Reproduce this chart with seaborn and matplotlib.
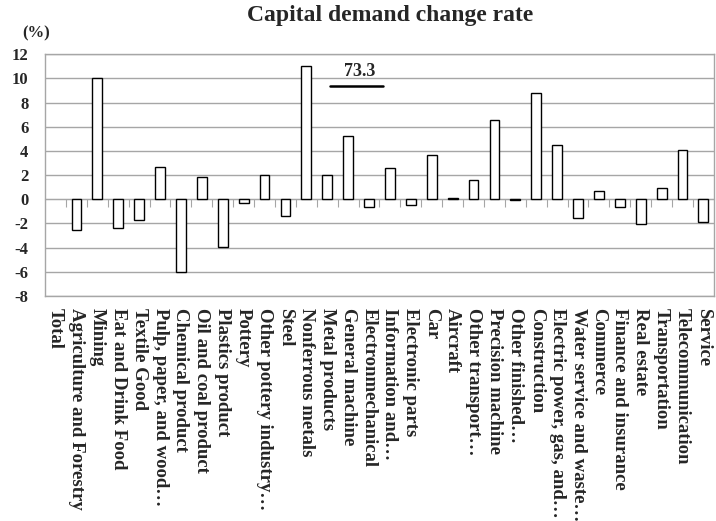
import numpy as np
import pandas as pd
import matplotlib
matplotlib.use('Agg')
import matplotlib.pyplot as plt
import seaborn as sns

# Categories and change rates (%)
categories = [
    'Total', 'Agriculture and Forestry', 'Mining', 'Eat and Drink Food',
    'Textile Good', 'Pulp, paper, and wood…', 'Chemical product',
    'Oil and coal product', 'Plastics product', 'Pottery',
    'Other pottery industry…', 'Steel', 'Nonferrous metals', 'Metal products',
    'General machine', 'Electronmechanical', 'Information and…',
    'Electronic parts', 'Car', 'Aircraft', 'Other transport…',
    'Precision machine', 'Other finished…', 'Construction',
    'Electric power, gas, and…', 'Water service and waste…', 'Commerce',
    'Finance and insurance', 'Real estate', 'Transportation',
    'Telecommunication', 'Service',
]
values = [
    np.nan, -2.55, 10.0, -2.4, -1.7, 2.7, -6.05, 1.85, -3.95, -0.33,
    2.0, -1.35, 11.0, 2.0, 5.2, -0.67, 2.55, -0.5, 3.65, 0.1,
    1.6, 6.55, -0.08, 8.8, 4.5, -1.55, 0.72, -0.67, -2.03, 0.9,
    4.08, -1.88,
]
y_ticks = [-8, -6, -4, -2, 0, 2, 4, 6, 8, 10, 12]
note_text = '73.3'

df = pd.DataFrame({'sector': categories, 'rate': values})

sns.set_style('white')
plt.rcParams['font.family'] = ['Liberation Serif', 'DejaVu Serif']
plt.rcParams['font.weight'] = 'bold'

fig = plt.figure(figsize=(7.16, 5.21), dpi=100)
ax = fig.add_axes([0.063, 0.432, 0.934, 0.464])

grid_col = '#a6a6a6'
ax.set_axisbelow(True)
ax.yaxis.grid(True, color=grid_col, linewidth=1)

sns.barplot(data=df, x='sector', y='rate', order=categories, color='white',
            edgecolor='black', linewidth=1, width=0.47, saturation=1, ax=ax)

ax.set_ylim(-8, 12)
ax.set_xlim(-0.5, len(categories) - 0.5)
ax.set_yticks(y_ticks)
ax.set_yticklabels([str(t) for t in y_ticks], fontsize=12, fontweight='bold')
ax.tick_params(axis='y', length=5, color=grid_col, pad=7)
ax.tick_params(axis='x', length=0, pad=9)
ax.set_xticks(range(len(categories)))
ax.set_xticklabels(categories, rotation=270, ha='center', va='top',
                   fontsize=13.5, fontweight='bold')
ax.set_xlabel('')
ax.set_ylabel('')
for s in ax.spines.values():
    s.set_color(grid_col)
    s.set_linewidth(1)

# category axis through zero with tick marks between categories
zero_ax = ax.secondary_xaxis(0.4)
zero_ax.set_xticks(np.arange(len(categories) - 1) + 0.5)
zero_ax.set_xticklabels([])
zero_ax.tick_params(length=6, color=grid_col, direction='out')
zero_ax.spines['bottom'].set_color(grid_col)

# off-scale note
ax.plot([13.15, 15.65], [9.4, 9.4], color='black', linewidth=1.8)
ax.text(14.55, 9.9, note_text, ha='center', va='bottom', fontsize=13,
        fontweight='bold')

fig.text(0.545, 0.971, 'Capital demand change rate', ha='center', va='center',
         fontsize=17, fontweight='bold')
fig.text(0.050, 0.936, '(%)', ha='center', va='center', fontsize=12,
         fontweight='bold')

fig.savefig('out.png', dpi=100)
